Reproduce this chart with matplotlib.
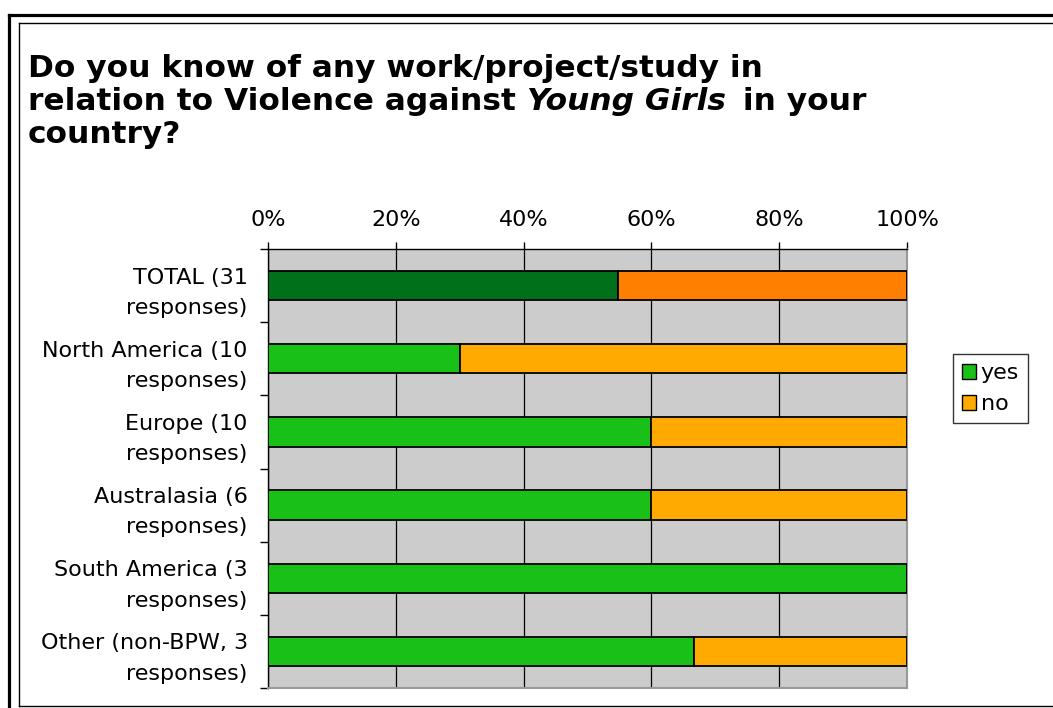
import matplotlib
matplotlib.use("Agg")
import matplotlib.pyplot as plt
from matplotlib.lines import Line2D
from matplotlib.patches import Patch
from matplotlib.ticker import FixedLocator, NullFormatter

categories = ["TOTAL (31\nresponses)", "North America (10\nresponses)", "Europe (10\nresponses)",
              "Australasia (6\nresponses)", "South America (3\nresponses)", "Other (non-BPW, 3\nresponses)"]
yes_vals = [54.8, 30.0, 60.0, 60.0, 100.0, 66.7]
no_vals = [45.2, 70.0, 40.0, 40.0, 0.0, 33.3]
xticks = [0, 20, 40, 60, 80, 100]
xtick_labels = ["0%", "20%", "40%", "60%", "80%", "100%"]

W, H = 1053, 708
fig = plt.figure(figsize=(W / 100, H / 100), dpi=100)
fig.patch.set_facecolor("white")


def fx(px):
    return px / W


def fy(py):
    return 1 - py / H


# outer frame (thick) and inner frame (thin); right/bottom run past the image
for xs, ys, lw in [
    ([8.5, 8.5], [720, 15.3], 2.3),
    ([8.5, 1060], [15.3, 15.3], 2.3),
    ([18.5, 18.5], [706, 22.7], 1.0),
    ([18.5, 1060], [22.7, 22.7], 1.0),
    ([18.5, 1060], [706, 706], 1.0),
]:
    fig.add_artist(Line2D([fx(v) for v in xs], [fy(v) for v in ys],
                          transform=fig.transFigure, color="black", lw=lw,
                          solid_capstyle="projecting"))

ax = fig.add_axes([fx(268), fy(688), (907 - 268) / W, (688 - 249) / H])
ax.set_facecolor("#CCCCCC")

n = len(categories)
ypos = list(range(n))
yes_colors = ["#00701A"] + ["#18C018"] * (n - 1)
no_colors = ["#FF8000"] + ["#FFAA00"] * (n - 1)

ax.barh(ypos, yes_vals, height=0.4, color=yes_colors, edgecolor="black", lw=1.3, zorder=3)
ax.barh(ypos, no_vals, left=yes_vals, height=0.4, color=no_colors, edgecolor="black", lw=1.3, zorder=3)

ax.set_xlim(0, 100)
ax.set_ylim(n - 0.5, -0.5)
ax.xaxis.tick_top()
ax.set_xticks(xticks)
ax.set_xticklabels(xtick_labels, fontsize=16)
ax.tick_params(axis="x", length=5, width=1, pad=9, colors="black")
ax.grid(axis="x", color="black", lw=0.9, zorder=1)

ax.set_yticks(ypos)
ax.set_yticklabels(categories, fontsize=16, linespacing=1.65)
ax.tick_params(axis="y", length=0, pad=14.5)
ax.yaxis.set_minor_locator(FixedLocator([i + 0.5 for i in range(n - 1)] + [-0.5, n - 0.5]))
ax.yaxis.set_minor_formatter(NullFormatter())
ax.tick_params(axis="y", which="minor", length=6, width=1, color="black")
for lbl in ax.get_yticklabels():
    lbl.set_horizontalalignment("right")
    lbl.set_multialignment("right")

for side in ["top", "left"]:
    ax.spines[side].set_color("black")
    ax.spines[side].set_linewidth(1)
for side in ["right", "bottom"]:
    ax.spines[side].set_color("#999999")
    ax.spines[side].set_linewidth(1.5)

handles = [Patch(facecolor="#18C018", edgecolor="black", label="yes"),
           Patch(facecolor="#FFAA00", edgecolor="black", label="no")]
leg = fig.legend(handles=handles, loc="upper left", bbox_to_anchor=(fx(953), fy(354)),
                 fontsize=16, frameon=True, fancybox=False, edgecolor="black",
                 handlelength=0.65, handleheight=0.65, handletextpad=0.2, borderpad=0.4,
                 labelspacing=0.5, borderaxespad=0)
leg.get_frame().set_linewidth(1)

# title with italic part
fs = 22.5
x0 = 28
fig.text(fx(x0), fy(77), "Do you know of any work/project/study in", fontsize=fs,
         fontweight="bold", ha="left", va="baseline")
t1 = fig.text(fx(x0), fy(110), "relation to Violence against ", fontsize=fs,
              fontweight="bold", ha="left", va="baseline")
fig.canvas.draw()
r = fig.canvas.get_renderer()
bb = t1.get_window_extent(r)
t2 = fig.text(bb.x1 / W, fy(110), "Young Girls", fontsize=fs, fontweight="bold",
              style="italic", ha="left", va="baseline")
bb2 = t2.get_window_extent(r)
fig.text((bb2.x1 + 6) / W, fy(110), " in your", fontsize=fs, fontweight="bold",
         ha="left", va="baseline")
fig.text(fx(x0), fy(143), "country?", fontsize=fs, fontweight="bold", ha="left", va="baseline")

fig.savefig("out.png", dpi=100)
